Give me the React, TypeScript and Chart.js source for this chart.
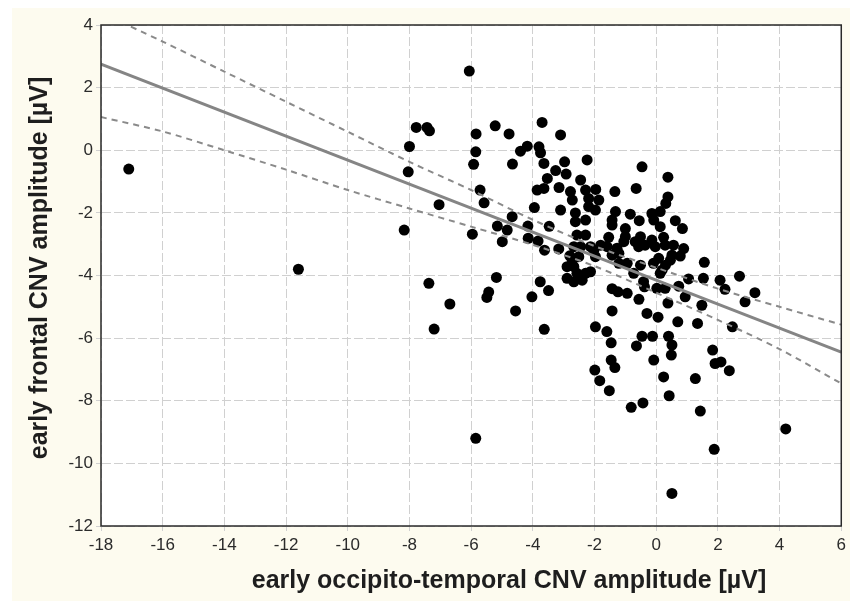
import React, { useEffect, useRef } from "react";
import { Chart, registerables } from "chart.js";

Chart.register(...registerables);

// Scatter data: early occipito-temporal (x) vs early frontal (y) CNV amplitude [µV]
const xValues: number[] = [
  -17.1, -11.6, -6.06, -5.85, 4.2, 0.51, -8.17, -7.78, -7.43, -7.35,
  -8.0, -8.04, -5.84, -5.85, -5.92, -5.22, -4.77, -4.66, -4.4, -4.18,
  -3.7, -3.1, -3.8, -3.75, -3.64, -2.97, -2.24, -3.26, -2.92, -3.53,
  -3.64, -3.86, -3.15, -2.45, -2.78, -2.72, -2.29, -1.96, -2.19, -1.86,
  -1.34, -0.65, -0.46, 0.38, 0.38, 0.31, 0.13, 0.62, 0.85, 0.13,
  0.24, 0.56, 0.89, 0.78, 0.46, 0.3, 1.56, 1.05, 1.53, 2.07,
  2.23, 2.7, 3.2, 2.88, 0.73, 0.94, 0.38, 1.48, 0.7, 1.34,
  2.47, -5.71, -5.58, -7.04, -3.95, -3.1, -2.62, -2.29, -2.19, -1.97,
  -4.67, -5.15, -4.83, -4.99, -4.16, -3.47, -5.96, -4.15, -3.83, -3.62,
  -3.16, -2.8, -2.51, -2.89, -2.67, -2.57, -2.89, -2.67, -2.4, -2.29,
  -2.13, -7.37, -5.18, -5.43, -5.49, -3.76, -3.49, -4.03, -6.69, -7.2,
  -4.56, -3.63, -1.97, -1.6, -1.46, -1.43, -1.46, -1.34, -1.99, -1.83,
  -1.52, -0.81, -0.43, -1.43, -1.24, -0.94, -0.56, -0.3, 0.06, -0.46,
  -0.12, -0.64, 0.4, 0.51, 0.49, -0.08, 0.24, 0.42, 1.27, 1.43,
  1.88, 1.83, 1.91, 2.1, 2.37, -2.62, -1.32, -1.43, -1.43, -0.84,
  -0.55, -0.14, -0.08, -2.57, -2.29, -2.67, -2.45, -2.13, -2.02, -1.8,
  -1.54, -1.59, -1.27, -1.21, -1.0, -1.0, -1.05, -0.68, -0.51, -0.57,
  -0.36, -0.14, -0.03, 0.29, 0.51, -2.72, -1.97, -1.43, -1.21, -0.94,
  -0.73, -0.51, -0.41, -0.38, -0.09, 0.08, 0.19, 0.13, 0.02, 0.29,
];
const yValues: number[] = [
  -0.6, -3.8, 2.53, -9.2, -8.9, -10.96, -2.55, 0.73, 0.73, 0.62,
  0.12, -0.69, 0.52, -0.05, -0.45, 0.78, 0.52, -0.44, -0.03, 0.13,
  0.89, 0.49, 0.11, -0.08, -0.42, -0.37, -0.31, -0.65, -0.76, -0.9,
  -1.22, -1.27, -1.19, -0.95, -1.32, -1.59, -1.27, -1.25, -1.54, -1.59,
  -1.32, -1.22, -0.53, -0.86, -1.49, -1.7, -1.96, -2.25, -2.5, -2.44,
  -2.78, -3.03, -3.14, -3.38, -3.51, -3.67, -3.58, -4.11, -4.09, -4.15,
  -4.44, -4.02, -4.55, -4.84, -4.34, -4.68, -4.88, -4.95, -5.48, -5.53,
  -5.64, -1.27, -1.68, -1.74, -1.83, -1.91, -2.0, -2.23, -1.8, -1.91,
  -2.12, -2.42, -2.55, -2.92, -2.42, -2.43, -2.68, -2.81, -2.9, -3.19,
  -3.15, -3.37, -3.4, -3.72, -3.72, -3.93, -4.09, -4.2, -4.15, -3.93,
  -3.88, -4.25, -4.06, -4.53, -4.7, -4.2, -4.48, -4.68, -4.91, -5.71,
  -5.13, -5.72, -5.64, -5.79, -6.15, -5.13, -6.7, -6.94, -7.02, -7.36,
  -7.68, -8.21, -8.07, -4.42, -4.52, -4.57, -4.76, -5.21, -5.33, -5.94,
  -5.94, -6.25, -5.94, -6.22, -6.54, -6.7, -7.24, -7.84, -7.29, -8.33,
  -9.55, -6.38, -6.81, -6.76, -7.04, -2.28, -1.96, -2.23, -2.39, -2.04,
  -2.25, -2.02, -2.23, -2.71, -2.71, -3.08, -3.08, -3.08, -3.19, -3.03,
  -2.78, -3.08, -3.13, -3.29, -2.5, -2.76, -2.92, -2.92, -2.76, -3.08,
  -3.03, -2.87, -3.08, -3.03, -3.35, -3.51, -3.4, -3.35, -3.61, -3.61,
  -3.93, -3.67, -4.2, -4.36, -3.61, -3.45, -3.83, -3.93, -4.41, -4.41,
];

// Regression line end points
const fitX: number[] = [-18, 6];
const fitY: number[] = [2.75, -6.45];

// Confidence band points
const bandX: number[] = [-18, -16, -14, -12, -10, -8, -6, -4, -2, 0, 2, 4, 6];
const upperY: number[] = [4.39, 3.47, 2.51, 1.55, 0.59, -0.37, -1.27, -2.22, -3.06, -3.75, -4.42, -5.0, -5.57];
const lowerY: number[] = [1.06, 0.6, 0.0, -0.62, -1.27, -1.86, -2.44, -3.02, -3.7, -4.55, -5.42, -6.35, -7.45];

const xTicks: number[] = [-18, -16, -14, -12, -10, -8, -6, -4, -2, 0, 2, 4, 6];
const yTicks: number[] = [-12, -10, -8, -6, -4, -2, 0, 2, 4];

const xTitle = "early occipito-temporal CNV amplitude [µV]";
const yTitle = "early frontal CNV amplitude [µV]";

const FONT = "'Liberation Sans', Arial, sans-serif";

const bgPlugin = {
  id: "bgPlugin",
  beforeDraw(chart: any) {
    const { ctx, width, height, chartArea } = chart;
    ctx.save();
    ctx.fillStyle = "#ffffff";
    ctx.fillRect(0, 0, width, height);
    ctx.fillStyle = "#fdfbef";
    ctx.fillRect(12, 8, width - 12, height - 8);
    ctx.fillStyle = "#ffffff";
    ctx.fillRect(chartArea.left, chartArea.top, chartArea.right - chartArea.left, chartArea.bottom - chartArea.top);
    ctx.restore();
  },
  afterDraw(chart: any) {
    const { ctx, chartArea } = chart;
    ctx.save();
    ctx.strokeStyle = "#2a2a2a";
    ctx.lineWidth = 1.5;
    ctx.strokeRect(chartArea.left, chartArea.top, chartArea.right - chartArea.left, chartArea.bottom - chartArea.top);
    // axis titles
    ctx.fillStyle = "#1e1e1e";
    ctx.font = `bold 25px ${FONT}`;
    ctx.textAlign = "center";
    ctx.textBaseline = "middle";
    ctx.fillText(xTitle, 509, 581);
    ctx.translate(40, 268);
    ctx.rotate(-Math.PI / 2);
    ctx.fillText(yTitle, 0, 0);
    ctx.restore();
  },
};

export default function App() {
  const ref = useRef<HTMLCanvasElement | null>(null);

  useEffect(() => {
    if (!ref.current) return;
    const points = xValues.map((x, i) => ({ x, y: yValues[i] }));
    const fit = fitX.map((x, i) => ({ x, y: fitY[i] }));
    const upper = bandX.map((x, i) => ({ x, y: upperY[i] }));
    const lower = bandX.map((x, i) => ({ x, y: lowerY[i] }));

    const chart = new Chart(ref.current, {
      type: "scatter",
      data: {
        datasets: [
          {
            label: "fit",
            data: fit,
            showLine: true,
            borderColor: "#858585",
            borderWidth: 3,
            pointRadius: 0,
            order: 0,
          } as any,
          {
            label: "upper",
            data: upper,
            showLine: true,
            borderColor: "#8a8a8a",
            borderWidth: 2,
            borderDash: [6, 5],
            pointRadius: 0,
            tension: 0.3,
            order: 1,
          } as any,
          {
            label: "lower",
            data: lower,
            showLine: true,
            borderColor: "#8a8a8a",
            borderWidth: 2,
            borderDash: [6, 5],
            pointRadius: 0,
            tension: 0.3,
            order: 2,
          } as any,
          {
            label: "data",
            data: points,
            backgroundColor: "#000000",
            borderColor: "#000000",
            borderWidth: 0,
            pointRadius: 5.5,
            order: 3,
          } as any,
        ],
      },
      options: {
        animation: false,
        responsive: false,
        layout: { padding: { left: 0, top: 25, right: 7, bottom: 0 } },
        plugins: { legend: { display: false }, tooltip: { enabled: false } },
        scales: {
          x: {
            type: "linear",
            min: -18,
            max: 6,
            afterBuildTicks: (s: any) => {
              s.ticks = xTicks.map((v) => ({ value: v }));
            },
            afterFit: (s: any) => {
              s.height = 75;
            },
            ticks: {
              color: "#2b2b2b",
              font: { family: FONT, size: 17 },
              padding: 4,
              maxRotation: 0,
            },
            grid: {
              color: "#d0d0d0",
              lineWidth: 1,
              tickLength: 5,
            },
            border: { display: true, color: "rgba(0,0,0,0)", dash: [9, 3] },
            title: { display: false },
          },
          y: {
            type: "linear",
            min: -12,
            max: 4,
            afterBuildTicks: (s: any) => {
              s.ticks = yTicks.map((v) => ({ value: v }));
            },
            afterFit: (s: any) => {
              s.width = 101;
            },
            ticks: {
              color: "#2b2b2b",
              font: { family: FONT, size: 17 },
              padding: 3,
            },
            grid: {
              color: "#d0d0d0",
              lineWidth: 1,
              tickLength: 5,
            },
            border: { display: true, color: "rgba(0,0,0,0)", dash: [9, 3] },
            title: { display: false },
          },
        },
      },
      plugins: [bgPlugin],
    });
    return () => chart.destroy();
  }, []);

  return (
    <div style={{ position: "fixed", left: 0, top: 0, width: 850, height: 601 }}>
      <canvas ref={ref} width={850} height={601} style={{ display: "block", width: 850, height: 601 }} />
    </div>
  );
}
